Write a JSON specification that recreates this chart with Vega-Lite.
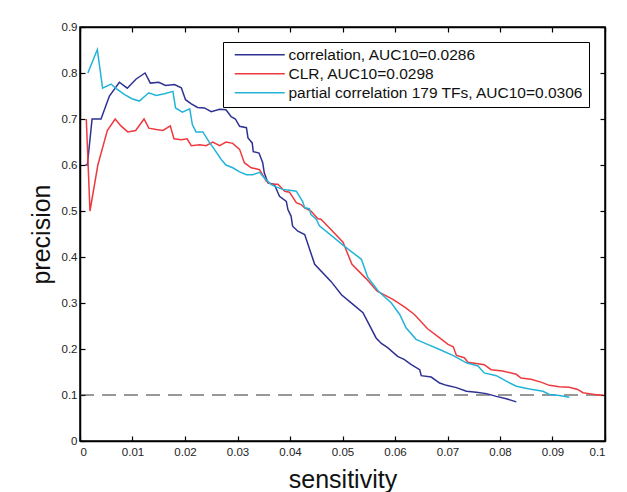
{
  "$schema": "https://vega.github.io/schema/vega-lite/v6.json",
  "width": 525,
  "height": 414,
  "autosize": {"type": "none"},
  "padding": {"left": 80, "top": 27, "right": 22, "bottom": 51},
  "background": "white",
  "config": {
    "font": "Liberation Sans",
    "view": {"stroke": "black", "strokeWidth": 1.5},
    "axis": {
      "grid": false,
      "domainColor": "black",
      "domainWidth": 1.5,
      "tickColor": "black",
      "tickWidth": 1.2,
      "tickSize": -5,
      "labelFont": "Liberation Sans",
      "labelFontSize": 11.5,
      "labelColor": "#222",
      "titleFont": "Liberation Sans",
      "titleFontSize": 25,
      "titleFontWeight": "normal",
      "titleColor": "#111"
    },
    "legend": {
      "orient": "none",
      "legendX": 143,
      "legendY": 15,
      "strokeColor": "black",
      "fillColor": "white",
      "padding": 5,
      "symbolType": "M-0.2,0H9.8",
      "symbolSize": 100,
      "symbolStrokeWidth": 1.5,
      "labelFont": "Liberation Sans",
      "labelFontSize": 15.5,
      "labelColor": "#111",
      "labelLimit": 0,
      "labelOffset": 45,
      "rowPadding": 2
    }
  },
  "resolve": {"axis": {"x": "independent", "y": "independent"}},
  "layer": [
    {
      "data": {"values": [{"sensitivity": 0, "precision": 0.1}, {"sensitivity": 0.1, "precision": 0.1}]},
      "mark": {"type": "line", "color": "#333", "strokeDash": [14, 8], "strokeWidth": 1.2},
      "encoding": {
        "x": {"field": "sensitivity", "type": "quantitative", "scale": {"domain": [0, 0.1], "nice": false},
              "axis": {"orient": "top", "labels": false, "title": null, "values": [0,0.01,0.02,0.03,0.04,0.05,0.06,0.07,0.08,0.09,0.1]}},
        "y": {"field": "precision", "type": "quantitative", "scale": {"domain": [0, 0.9], "nice": false},
              "axis": {"orient": "right", "labels": false, "title": null, "values": [0,0.1,0.2,0.3,0.4,0.5,0.6,0.7,0.8,0.9]}}
      }
    },
    {
      "data": {"values": [
        {"method":"correlation, AUC10=0.0286","sensitivity":0.0010,"precision":0.60},
        {"method":"correlation, AUC10=0.0286","sensitivity":0.0014,"precision":0.60},
        {"method":"correlation, AUC10=0.0286","sensitivity":0.0023,"precision":0.70},
        {"method":"correlation, AUC10=0.0286","sensitivity":0.0040,"precision":0.70},
        {"method":"correlation, AUC10=0.0286","sensitivity":0.0056,"precision":0.75},
        {"method":"correlation, AUC10=0.0286","sensitivity":0.0075,"precision":0.78},
        {"method":"correlation, AUC10=0.0286","sensitivity":0.0090,"precision":0.767},
        {"method":"correlation, AUC10=0.0286","sensitivity":0.0107,"precision":0.787},
        {"method":"correlation, AUC10=0.0286","sensitivity":0.0124,"precision":0.80},
        {"method":"correlation, AUC10=0.0286","sensitivity":0.0134,"precision":0.778},
        {"method":"correlation, AUC10=0.0286","sensitivity":0.0150,"precision":0.78},
        {"method":"correlation, AUC10=0.0286","sensitivity":0.0163,"precision":0.773},
        {"method":"correlation, AUC10=0.0286","sensitivity":0.0180,"precision":0.775},
        {"method":"correlation, AUC10=0.0286","sensitivity":0.0193,"precision":0.768},
        {"method":"correlation, AUC10=0.0286","sensitivity":0.0201,"precision":0.742},
        {"method":"correlation, AUC10=0.0286","sensitivity":0.0212,"precision":0.733},
        {"method":"correlation, AUC10=0.0286","sensitivity":0.0224,"precision":0.725},
        {"method":"correlation, AUC10=0.0286","sensitivity":0.0237,"precision":0.724},
        {"method":"correlation, AUC10=0.0286","sensitivity":0.0250,"precision":0.716},
        {"method":"correlation, AUC10=0.0286","sensitivity":0.0266,"precision":0.721},
        {"method":"correlation, AUC10=0.0286","sensitivity":0.0278,"precision":0.720},
        {"method":"correlation, AUC10=0.0286","sensitivity":0.0288,"precision":0.705},
        {"method":"correlation, AUC10=0.0286","sensitivity":0.0296,"precision":0.700},
        {"method":"correlation, AUC10=0.0286","sensitivity":0.0304,"precision":0.684},
        {"method":"correlation, AUC10=0.0286","sensitivity":0.0317,"precision":0.681},
        {"method":"correlation, AUC10=0.0286","sensitivity":0.0320,"precision":0.659},
        {"method":"correlation, AUC10=0.0286","sensitivity":0.0328,"precision":0.648},
        {"method":"correlation, AUC10=0.0286","sensitivity":0.0330,"precision":0.629},
        {"method":"correlation, AUC10=0.0286","sensitivity":0.0341,"precision":0.626},
        {"method":"correlation, AUC10=0.0286","sensitivity":0.0348,"precision":0.605},
        {"method":"correlation, AUC10=0.0286","sensitivity":0.0351,"precision":0.583},
        {"method":"correlation, AUC10=0.0286","sensitivity":0.0358,"precision":0.561},
        {"method":"correlation, AUC10=0.0286","sensitivity":0.0370,"precision":0.558},
        {"method":"correlation, AUC10=0.0286","sensitivity":0.0380,"precision":0.532},
        {"method":"correlation, AUC10=0.0286","sensitivity":0.0393,"precision":0.521},
        {"method":"correlation, AUC10=0.0286","sensitivity":0.0396,"precision":0.503},
        {"method":"correlation, AUC10=0.0286","sensitivity":0.0402,"precision":0.489},
        {"method":"correlation, AUC10=0.0286","sensitivity":0.0405,"precision":0.467},
        {"method":"correlation, AUC10=0.0286","sensitivity":0.0415,"precision":0.456},
        {"method":"correlation, AUC10=0.0286","sensitivity":0.0428,"precision":0.449},
        {"method":"correlation, AUC10=0.0286","sensitivity":0.0447,"precision":0.384},
        {"method":"correlation, AUC10=0.0286","sensitivity":0.0478,"precision":0.347},
        {"method":"correlation, AUC10=0.0286","sensitivity":0.0498,"precision":0.318},
        {"method":"correlation, AUC10=0.0286","sensitivity":0.0520,"precision":0.297},
        {"method":"correlation, AUC10=0.0286","sensitivity":0.0539,"precision":0.279},
        {"method":"correlation, AUC10=0.0286","sensitivity":0.0564,"precision":0.224},
        {"method":"correlation, AUC10=0.0286","sensitivity":0.0574,"precision":0.212},
        {"method":"correlation, AUC10=0.0286","sensitivity":0.0586,"precision":0.203},
        {"method":"correlation, AUC10=0.0286","sensitivity":0.0605,"precision":0.184},
        {"method":"correlation, AUC10=0.0286","sensitivity":0.0618,"precision":0.177},
        {"method":"correlation, AUC10=0.0286","sensitivity":0.0631,"precision":0.166},
        {"method":"correlation, AUC10=0.0286","sensitivity":0.0647,"precision":0.155},
        {"method":"correlation, AUC10=0.0286","sensitivity":0.0650,"precision":0.142},
        {"method":"correlation, AUC10=0.0286","sensitivity":0.0669,"precision":0.139},
        {"method":"correlation, AUC10=0.0286","sensitivity":0.0685,"precision":0.126},
        {"method":"correlation, AUC10=0.0286","sensitivity":0.0698,"precision":0.121},
        {"method":"correlation, AUC10=0.0286","sensitivity":0.0717,"precision":0.116},
        {"method":"correlation, AUC10=0.0286","sensitivity":0.0736,"precision":0.108},
        {"method":"correlation, AUC10=0.0286","sensitivity":0.0755,"precision":0.106},
        {"method":"correlation, AUC10=0.0286","sensitivity":0.0774,"precision":0.103},
        {"method":"correlation, AUC10=0.0286","sensitivity":0.0793,"precision":0.097},
        {"method":"correlation, AUC10=0.0286","sensitivity":0.0812,"precision":0.092},
        {"method":"correlation, AUC10=0.0286","sensitivity":0.0831,"precision":0.085},
        {"method":"CLR, AUC10=0.0298","sensitivity":0.0012,"precision":0.70},
        {"method":"CLR, AUC10=0.0298","sensitivity":0.0019,"precision":0.50},
        {"method":"CLR, AUC10=0.0298","sensitivity":0.0034,"precision":0.60},
        {"method":"CLR, AUC10=0.0298","sensitivity":0.0052,"precision":0.675},
        {"method":"CLR, AUC10=0.0298","sensitivity":0.0067,"precision":0.70},
        {"method":"CLR, AUC10=0.0298","sensitivity":0.0078,"precision":0.685},
        {"method":"CLR, AUC10=0.0298","sensitivity":0.0091,"precision":0.672},
        {"method":"CLR, AUC10=0.0298","sensitivity":0.0106,"precision":0.675},
        {"method":"CLR, AUC10=0.0298","sensitivity":0.0122,"precision":0.70},
        {"method":"CLR, AUC10=0.0298","sensitivity":0.0131,"precision":0.680},
        {"method":"CLR, AUC10=0.0298","sensitivity":0.0145,"precision":0.677},
        {"method":"CLR, AUC10=0.0298","sensitivity":0.0158,"precision":0.675},
        {"method":"CLR, AUC10=0.0298","sensitivity":0.0172,"precision":0.685},
        {"method":"CLR, AUC10=0.0298","sensitivity":0.0179,"precision":0.657},
        {"method":"CLR, AUC10=0.0298","sensitivity":0.0193,"precision":0.655},
        {"method":"CLR, AUC10=0.0298","sensitivity":0.0204,"precision":0.657},
        {"method":"CLR, AUC10=0.0298","sensitivity":0.0212,"precision":0.642},
        {"method":"CLR, AUC10=0.0298","sensitivity":0.0228,"precision":0.644},
        {"method":"CLR, AUC10=0.0298","sensitivity":0.0240,"precision":0.642},
        {"method":"CLR, AUC10=0.0298","sensitivity":0.0253,"precision":0.650},
        {"method":"CLR, AUC10=0.0298","sensitivity":0.0266,"precision":0.642},
        {"method":"CLR, AUC10=0.0298","sensitivity":0.0278,"precision":0.650},
        {"method":"CLR, AUC10=0.0298","sensitivity":0.0291,"precision":0.647},
        {"method":"CLR, AUC10=0.0298","sensitivity":0.0304,"precision":0.634},
        {"method":"CLR, AUC10=0.0298","sensitivity":0.0313,"precision":0.605},
        {"method":"CLR, AUC10=0.0298","sensitivity":0.0326,"precision":0.594},
        {"method":"CLR, AUC10=0.0298","sensitivity":0.0342,"precision":0.590},
        {"method":"CLR, AUC10=0.0298","sensitivity":0.0355,"precision":0.565},
        {"method":"CLR, AUC10=0.0298","sensitivity":0.0364,"precision":0.558},
        {"method":"CLR, AUC10=0.0298","sensitivity":0.0377,"precision":0.558},
        {"method":"CLR, AUC10=0.0298","sensitivity":0.0390,"precision":0.543},
        {"method":"CLR, AUC10=0.0298","sensitivity":0.0399,"precision":0.541},
        {"method":"CLR, AUC10=0.0298","sensitivity":0.0412,"precision":0.518},
        {"method":"CLR, AUC10=0.0298","sensitivity":0.0421,"precision":0.514},
        {"method":"CLR, AUC10=0.0298","sensitivity":0.0428,"precision":0.507},
        {"method":"CLR, AUC10=0.0298","sensitivity":0.0440,"precision":0.500},
        {"method":"CLR, AUC10=0.0298","sensitivity":0.0453,"precision":0.483},
        {"method":"CLR, AUC10=0.0298","sensitivity":0.0459,"precision":0.482},
        {"method":"CLR, AUC10=0.0298","sensitivity":0.0472,"precision":0.467},
        {"method":"CLR, AUC10=0.0298","sensitivity":0.0501,"precision":0.432},
        {"method":"CLR, AUC10=0.0298","sensitivity":0.0518,"precision":0.384},
        {"method":"CLR, AUC10=0.0298","sensitivity":0.0545,"precision":0.353},
        {"method":"CLR, AUC10=0.0298","sensitivity":0.0566,"precision":0.326},
        {"method":"CLR, AUC10=0.0298","sensitivity":0.0596,"precision":0.308},
        {"method":"CLR, AUC10=0.0298","sensitivity":0.0620,"precision":0.290},
        {"method":"CLR, AUC10=0.0298","sensitivity":0.0637,"precision":0.275},
        {"method":"CLR, AUC10=0.0298","sensitivity":0.0662,"precision":0.244},
        {"method":"CLR, AUC10=0.0298","sensitivity":0.0685,"precision":0.224},
        {"method":"CLR, AUC10=0.0298","sensitivity":0.0701,"precision":0.210},
        {"method":"CLR, AUC10=0.0298","sensitivity":0.0711,"precision":0.205},
        {"method":"CLR, AUC10=0.0298","sensitivity":0.0717,"precision":0.186},
        {"method":"CLR, AUC10=0.0298","sensitivity":0.0732,"precision":0.181},
        {"method":"CLR, AUC10=0.0298","sensitivity":0.0739,"precision":0.171},
        {"method":"CLR, AUC10=0.0298","sensitivity":0.0770,"precision":0.166},
        {"method":"CLR, AUC10=0.0298","sensitivity":0.0783,"precision":0.155},
        {"method":"CLR, AUC10=0.0298","sensitivity":0.0805,"precision":0.152},
        {"method":"CLR, AUC10=0.0298","sensitivity":0.0831,"precision":0.145},
        {"method":"CLR, AUC10=0.0298","sensitivity":0.0840,"precision":0.137},
        {"method":"CLR, AUC10=0.0298","sensitivity":0.0859,"precision":0.134},
        {"method":"CLR, AUC10=0.0298","sensitivity":0.0878,"precision":0.128},
        {"method":"CLR, AUC10=0.0298","sensitivity":0.0894,"precision":0.121},
        {"method":"CLR, AUC10=0.0298","sensitivity":0.0913,"precision":0.118},
        {"method":"CLR, AUC10=0.0298","sensitivity":0.0932,"precision":0.117},
        {"method":"CLR, AUC10=0.0298","sensitivity":0.0948,"precision":0.112},
        {"method":"CLR, AUC10=0.0298","sensitivity":0.0958,"precision":0.105},
        {"method":"CLR, AUC10=0.0298","sensitivity":0.0970,"precision":0.103},
        {"method":"CLR, AUC10=0.0298","sensitivity":0.0986,"precision":0.100},
        {"method":"CLR, AUC10=0.0298","sensitivity":0.0997,"precision":0.100},
        {"method":"partial correlation 179 TFs, AUC10=0.0306","sensitivity":0.0015,"precision":0.80},
        {"method":"partial correlation 179 TFs, AUC10=0.0306","sensitivity":0.0033,"precision":0.851},
        {"method":"partial correlation 179 TFs, AUC10=0.0306","sensitivity":0.0043,"precision":0.767},
        {"method":"partial correlation 179 TFs, AUC10=0.0306","sensitivity":0.0059,"precision":0.776},
        {"method":"partial correlation 179 TFs, AUC10=0.0306","sensitivity":0.0069,"precision":0.766},
        {"method":"partial correlation 179 TFs, AUC10=0.0306","sensitivity":0.0085,"precision":0.753},
        {"method":"partial correlation 179 TFs, AUC10=0.0306","sensitivity":0.0099,"precision":0.744},
        {"method":"partial correlation 179 TFs, AUC10=0.0306","sensitivity":0.0113,"precision":0.739},
        {"method":"partial correlation 179 TFs, AUC10=0.0306","sensitivity":0.0131,"precision":0.757},
        {"method":"partial correlation 179 TFs, AUC10=0.0306","sensitivity":0.0145,"precision":0.751},
        {"method":"partial correlation 179 TFs, AUC10=0.0306","sensitivity":0.0161,"precision":0.755},
        {"method":"partial correlation 179 TFs, AUC10=0.0306","sensitivity":0.0177,"precision":0.760},
        {"method":"partial correlation 179 TFs, AUC10=0.0306","sensitivity":0.0182,"precision":0.724},
        {"method":"partial correlation 179 TFs, AUC10=0.0306","sensitivity":0.0195,"precision":0.715},
        {"method":"partial correlation 179 TFs, AUC10=0.0306","sensitivity":0.0209,"precision":0.722},
        {"method":"partial correlation 179 TFs, AUC10=0.0306","sensitivity":0.0214,"precision":0.688},
        {"method":"partial correlation 179 TFs, AUC10=0.0306","sensitivity":0.0221,"precision":0.672},
        {"method":"partial correlation 179 TFs, AUC10=0.0306","sensitivity":0.0234,"precision":0.672},
        {"method":"partial correlation 179 TFs, AUC10=0.0306","sensitivity":0.0247,"precision":0.648},
        {"method":"partial correlation 179 TFs, AUC10=0.0306","sensitivity":0.0256,"precision":0.634},
        {"method":"partial correlation 179 TFs, AUC10=0.0306","sensitivity":0.0269,"precision":0.612},
        {"method":"partial correlation 179 TFs, AUC10=0.0306","sensitivity":0.0278,"precision":0.600},
        {"method":"partial correlation 179 TFs, AUC10=0.0306","sensitivity":0.0291,"precision":0.594},
        {"method":"partial correlation 179 TFs, AUC10=0.0306","sensitivity":0.0304,"precision":0.585},
        {"method":"partial correlation 179 TFs, AUC10=0.0306","sensitivity":0.0317,"precision":0.579},
        {"method":"partial correlation 179 TFs, AUC10=0.0306","sensitivity":0.0329,"precision":0.579},
        {"method":"partial correlation 179 TFs, AUC10=0.0306","sensitivity":0.0342,"precision":0.584},
        {"method":"partial correlation 179 TFs, AUC10=0.0306","sensitivity":0.0351,"precision":0.572},
        {"method":"partial correlation 179 TFs, AUC10=0.0306","sensitivity":0.0364,"precision":0.558},
        {"method":"partial correlation 179 TFs, AUC10=0.0306","sensitivity":0.0370,"precision":0.554},
        {"method":"partial correlation 179 TFs, AUC10=0.0306","sensitivity":0.0386,"precision":0.547},
        {"method":"partial correlation 179 TFs, AUC10=0.0306","sensitivity":0.0399,"precision":0.545},
        {"method":"partial correlation 179 TFs, AUC10=0.0306","sensitivity":0.0412,"precision":0.543},
        {"method":"partial correlation 179 TFs, AUC10=0.0306","sensitivity":0.0418,"precision":0.532},
        {"method":"partial correlation 179 TFs, AUC10=0.0306","sensitivity":0.0424,"precision":0.521},
        {"method":"partial correlation 179 TFs, AUC10=0.0306","sensitivity":0.0428,"precision":0.507},
        {"method":"partial correlation 179 TFs, AUC10=0.0306","sensitivity":0.0437,"precision":0.505},
        {"method":"partial correlation 179 TFs, AUC10=0.0306","sensitivity":0.0440,"precision":0.492},
        {"method":"partial correlation 179 TFs, AUC10=0.0306","sensitivity":0.0450,"precision":0.482},
        {"method":"partial correlation 179 TFs, AUC10=0.0306","sensitivity":0.0456,"precision":0.468},
        {"method":"partial correlation 179 TFs, AUC10=0.0306","sensitivity":0.0504,"precision":0.423},
        {"method":"partial correlation 179 TFs, AUC10=0.0306","sensitivity":0.0536,"precision":0.395},
        {"method":"partial correlation 179 TFs, AUC10=0.0306","sensitivity":0.0548,"precision":0.356},
        {"method":"partial correlation 179 TFs, AUC10=0.0306","sensitivity":0.0568,"precision":0.326},
        {"method":"partial correlation 179 TFs, AUC10=0.0306","sensitivity":0.0593,"precision":0.300},
        {"method":"partial correlation 179 TFs, AUC10=0.0306","sensitivity":0.0609,"precision":0.275},
        {"method":"partial correlation 179 TFs, AUC10=0.0306","sensitivity":0.0621,"precision":0.246},
        {"method":"partial correlation 179 TFs, AUC10=0.0306","sensitivity":0.0640,"precision":0.221},
        {"method":"partial correlation 179 TFs, AUC10=0.0306","sensitivity":0.0662,"precision":0.210},
        {"method":"partial correlation 179 TFs, AUC10=0.0306","sensitivity":0.0685,"precision":0.199},
        {"method":"partial correlation 179 TFs, AUC10=0.0306","sensitivity":0.0710,"precision":0.186},
        {"method":"partial correlation 179 TFs, AUC10=0.0306","sensitivity":0.0736,"precision":0.170},
        {"method":"partial correlation 179 TFs, AUC10=0.0306","sensitivity":0.0758,"precision":0.163},
        {"method":"partial correlation 179 TFs, AUC10=0.0306","sensitivity":0.0770,"precision":0.148},
        {"method":"partial correlation 179 TFs, AUC10=0.0306","sensitivity":0.0793,"precision":0.142},
        {"method":"partial correlation 179 TFs, AUC10=0.0306","sensitivity":0.0812,"precision":0.130},
        {"method":"partial correlation 179 TFs, AUC10=0.0306","sensitivity":0.0831,"precision":0.119},
        {"method":"partial correlation 179 TFs, AUC10=0.0306","sensitivity":0.0856,"precision":0.113},
        {"method":"partial correlation 179 TFs, AUC10=0.0306","sensitivity":0.0882,"precision":0.108},
        {"method":"partial correlation 179 TFs, AUC10=0.0306","sensitivity":0.0894,"precision":0.101},
        {"method":"partial correlation 179 TFs, AUC10=0.0306","sensitivity":0.0913,"precision":0.099},
        {"method":"partial correlation 179 TFs, AUC10=0.0306","sensitivity":0.0932,"precision":0.095}
      ]},
      "mark": {"type": "line", "strokeWidth": 1.5},
      "encoding": {
        "x": {"field": "sensitivity", "type": "quantitative", "scale": {"domain": [0, 0.1], "nice": false},
              "axis": {"orient": "bottom", "title": "sensitivity", "format": "~g", "labelPadding": 10, "titlePadding": 10,
                       "values": [0,0.01,0.02,0.03,0.04,0.05,0.06,0.07,0.08,0.09,0.1]}},
        "y": {"field": "precision", "type": "quantitative", "scale": {"domain": [0, 0.9], "nice": false},
              "axis": {"orient": "left", "title": "precision", "format": "~g", "labelPadding": 8, "titlePadding": 7,
                       "values": [0,0.1,0.2,0.3,0.4,0.5,0.6,0.7,0.8,0.9]}},
        "color": {"field": "method", "type": "nominal",
                  "scale": {"domain": ["correlation, AUC10=0.0286", "CLR, AUC10=0.0298", "partial correlation 179 TFs, AUC10=0.0306"],
                            "range": ["#2e3192", "#ee3a3f", "#22b4d8"]},
                  "legend": {"title": null}}
      }
    }
  ]
}
